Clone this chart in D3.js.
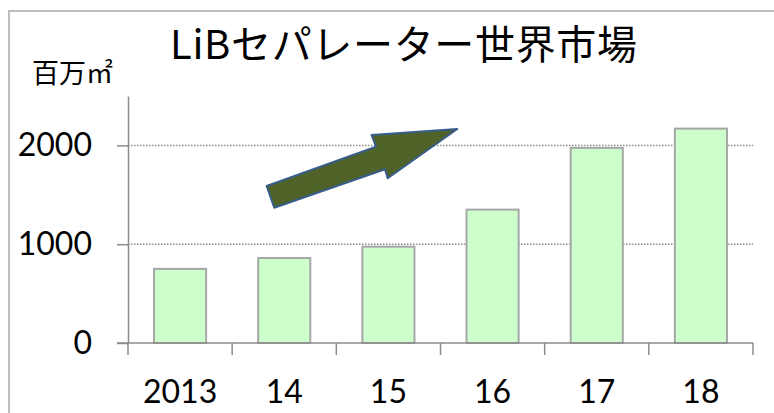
<!DOCTYPE html>
<html><head><meta charset="utf-8">
<script src="https://cdn.jsdelivr.net/npm/d3@7"></script>
<style>body{margin:0;background:#fff}svg{display:block}</style>
</head><body>
<script>
const categories = ["2013","14","15","16","17","18"];
const values = [750, 860, 975, 1350, 1975, 2170];
const yTicks = [0, 1000, 2000];
const title = "LiBセパレーター世界市場";
const unitLabel = "百万㎡";

const W = 774, H = 413;
const svg = d3.select("body").append("svg").attr("width", W).attr("height", H);

// frame
svg.append("rect").attr("x", 9).attr("y", 11).attr("width", 900).attr("height", 600)
  .attr("fill", "none").attr("stroke", "#bfbfbf").attr("stroke-width", 2);

const x = d3.scaleBand().domain(categories).range([128, 753]).paddingInner(0.5).paddingOuter(0.25);
const y = d3.scaleLinear().domain([0, 2500]).range([343, 96]);
const xi = d3.scaleLinear().domain([0, categories.length]).range([128, 753]);

// gridlines
svg.append("g").selectAll("line").data(yTicks.filter(d => d > 0)).join("line")
  .attr("x1", 128).attr("x2", 753).attr("y1", d => y(d)).attr("y2", d => y(d))
  .attr("stroke", "#8c8c8c").attr("stroke-width", 1.5).attr("stroke-dasharray", "1.5,1.5");

// bars
svg.append("g").selectAll("rect").data(values).join("rect")
  .attr("x", (d, i) => x(categories[i])).attr("width", x.bandwidth())
  .attr("y", d => y(d)).attr("height", d => y(0) - y(d))
  .attr("fill", "#ccffcc").attr("stroke", "#a6a6a6").attr("stroke-width", 2);

// y axis
const ya = svg.append("g").attr("transform", "translate(128,0)")
  .call(d3.axisLeft(y).tickValues(yTicks).tickFormat(d3.format("d")).tickSize(11).tickSizeOuter(0).tickPadding(25));
ya.select(".domain").attr("stroke", "#8c8c8c").attr("stroke-width", 1.5);
ya.selectAll(".tick line").attr("stroke", "#8c8c8c").attr("stroke-width", 1.5);
ya.selectAll(".tick text").attr("font-family", "Lato, sans-serif").attr("font-size", 32).attr("fill", "#000");

// x axis
const xa = svg.append("g").attr("transform", "translate(0,343)")
  .call(d3.axisBottom(x).tickSize(0).tickPadding(37));
xa.select(".domain").attr("d", "M117,0H753").attr("stroke", "#8c8c8c").attr("stroke-width", 1.5);
xa.selectAll(".tick text").attr("font-family", "Lato, sans-serif").attr("font-size", 32).attr("fill", "#000");
svg.append("g").selectAll("line").data(d3.range(categories.length + 1)).join("line")
  .attr("x1", d => xi(d)).attr("x2", d => xi(d)).attr("y1", 343).attr("y2", 355)
  .attr("stroke", "#8c8c8c").attr("stroke-width", 1.5);

// arrow annotation (in band-index / value units)
const arrow = [[1.331,1589],[2.381,1987],[2.339,2105],[3.161,2166],[2.493,1667],[2.467,1758],[1.404,1369]];
svg.append("path").attr("d", d3.line().x(d => xi(d[0])).y(d => y(d[1]))(arrow) + "Z")
  .attr("fill", "#4f6228").attr("stroke", "#385d8a").attr("stroke-width", 2).attr("stroke-linejoin", "round");

// title
svg.append("text").attr("x", 170).attr("y", 59).text(title)
  .attr("textLength", 467).attr("lengthAdjust", "spacing")
  .attr("font-family", "'Noto Sans CJK JP', sans-serif").attr("font-size", 40).attr("fill", "#000");
svg.append("text").attr("x", 32).attr("y", 83).text(unitLabel)
  .attr("font-family", "'Noto Sans CJK JP', sans-serif").attr("font-size", 27).attr("fill", "#000");
</script>
</body></html>
